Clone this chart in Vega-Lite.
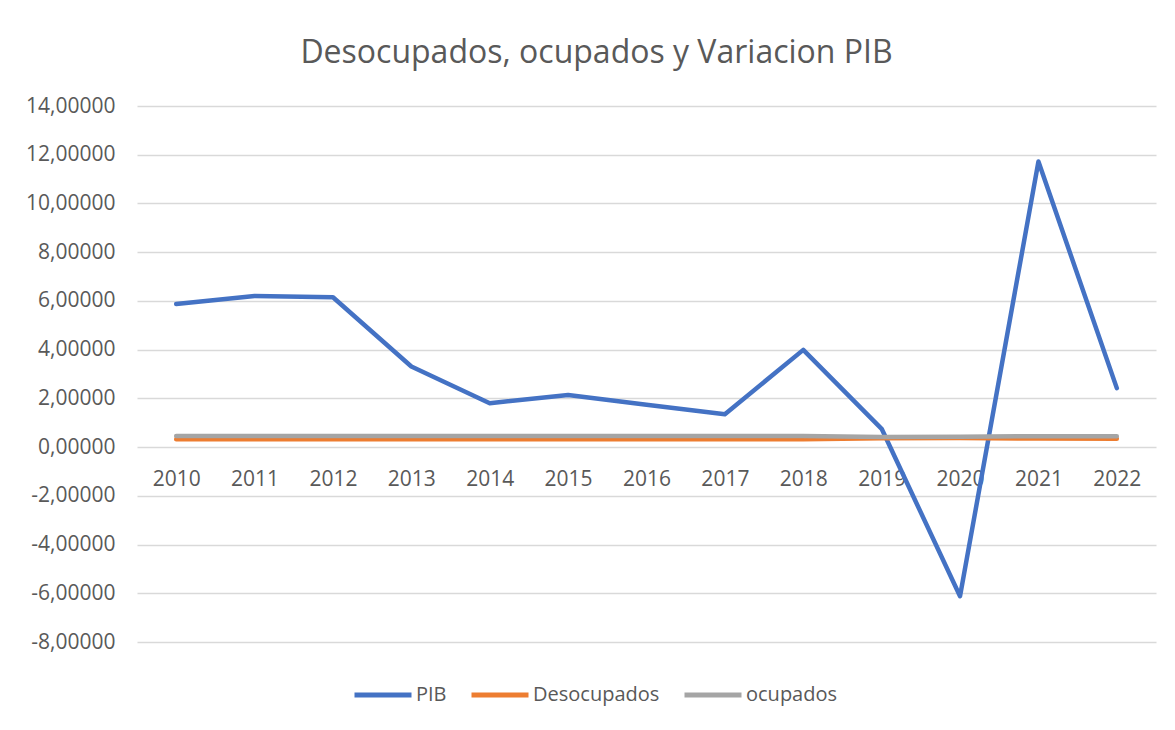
{
  "$schema": "https://vega.github.io/schema/vega-lite/v6.json",
  "autosize": {"type": "none"},
  "width": 1019,
  "height": 536,
  "padding": {"left": 137, "top": 106, "right": 19, "bottom": 88},
  "background": "white",
  "title": {
    "text": "Desocupados, ocupados y Variacion PIB",
    "font": "Open Sans",
    "fontSize": 32,
    "fontWeight": "normal",
    "color": "#595959",
    "anchor": "middle",
    "dx": -50,
    "offset": 25
  },
  "data": {
    "values": [
      {"year": "2010", "series": "PIB", "value": 5.87},
      {"year": "2011", "series": "PIB", "value": 6.2},
      {"year": "2012", "series": "PIB", "value": 6.15},
      {"year": "2013", "series": "PIB", "value": 3.31},
      {"year": "2014", "series": "PIB", "value": 1.8},
      {"year": "2015", "series": "PIB", "value": 2.14},
      {"year": "2016", "series": "PIB", "value": 1.74},
      {"year": "2017", "series": "PIB", "value": 1.35},
      {"year": "2018", "series": "PIB", "value": 3.99},
      {"year": "2019", "series": "PIB", "value": 0.75},
      {"year": "2020", "series": "PIB", "value": -6.12},
      {"year": "2021", "series": "PIB", "value": 11.72},
      {"year": "2022", "series": "PIB", "value": 2.42},
      {"year": "2010", "series": "Desocupados", "value": 0.32},
      {"year": "2011", "series": "Desocupados", "value": 0.32},
      {"year": "2012", "series": "Desocupados", "value": 0.32},
      {"year": "2013", "series": "Desocupados", "value": 0.32},
      {"year": "2014", "series": "Desocupados", "value": 0.32},
      {"year": "2015", "series": "Desocupados", "value": 0.32},
      {"year": "2016", "series": "Desocupados", "value": 0.32},
      {"year": "2017", "series": "Desocupados", "value": 0.32},
      {"year": "2018", "series": "Desocupados", "value": 0.32},
      {"year": "2019", "series": "Desocupados", "value": 0.36},
      {"year": "2020", "series": "Desocupados", "value": 0.37},
      {"year": "2021", "series": "Desocupados", "value": 0.35},
      {"year": "2022", "series": "Desocupados", "value": 0.34},
      {"year": "2010", "series": "ocupados", "value": 0.46},
      {"year": "2011", "series": "ocupados", "value": 0.46},
      {"year": "2012", "series": "ocupados", "value": 0.46},
      {"year": "2013", "series": "ocupados", "value": 0.46},
      {"year": "2014", "series": "ocupados", "value": 0.46},
      {"year": "2015", "series": "ocupados", "value": 0.46},
      {"year": "2016", "series": "ocupados", "value": 0.46},
      {"year": "2017", "series": "ocupados", "value": 0.46},
      {"year": "2018", "series": "ocupados", "value": 0.46},
      {"year": "2019", "series": "ocupados", "value": 0.41},
      {"year": "2020", "series": "ocupados", "value": 0.42},
      {"year": "2021", "series": "ocupados", "value": 0.45},
      {"year": "2022", "series": "ocupados", "value": 0.45}
    ]
  },
  "mark": {"type": "line", "strokeWidth": 4.5, "strokeCap": "round", "strokeJoin": "round"},
  "encoding": {
    "x": {
      "field": "year",
      "type": "ordinal",
      "scale": {"type": "point", "padding": 0.5},
      "axis": {
        "title": null,
        "labelAngle": 0,
        "domain": false,
        "ticks": false,
        "grid": false,
        "offset": -195,
        "labelPadding": 21,
        "labelFont": "Open Sans",
        "labelFontSize": 21,
        "labelColor": "#595959"
      }
    },
    "y": {
      "field": "value",
      "type": "quantitative",
      "scale": {"domain": [-8, 14], "nice": false, "zero": false},
      "axis": {
        "title": null,
        "values": [-8, -6, -4, -2, 0, 2, 4, 6, 8, 10, 12, 14],
        "labelExpr": "(datum.value < 0 ? '-' : '') + abs(datum.value) + ',00000'",
        "domain": false,
        "ticks": false,
        "grid": true,
        "gridColor": "#D9D9D9",
        "gridWidth": 1.3,
        "labelPadding": 22,
        "labelFont": "Open Sans",
        "labelFontSize": 21,
        "labelColor": "#595959"
      }
    },
    "color": {
      "field": "series",
      "type": "nominal",
      "sort": ["PIB", "Desocupados", "ocupados"],
      "scale": {"domain": ["PIB", "Desocupados", "ocupados"], "range": ["#4472C4", "#ED7D31", "#A5A5A5"]},
      "legend": {
        "title": null,
        "orient": "none",
        "direction": "horizontal",
        "legendX": 215,
        "legendY": 558,
        "symbolType": "stroke",
        "symbolSize": 3249,
        "symbolStrokeWidth": 5,
        "labelFont": "Open Sans",
        "labelFontSize": 20,
        "labelColor": "#595959",
        "labelOffset": 2,
        "columnPadding": 14
      }
    },
    "order": {"field": "year"}
  },
  "config": {"view": {"stroke": null}}
}
